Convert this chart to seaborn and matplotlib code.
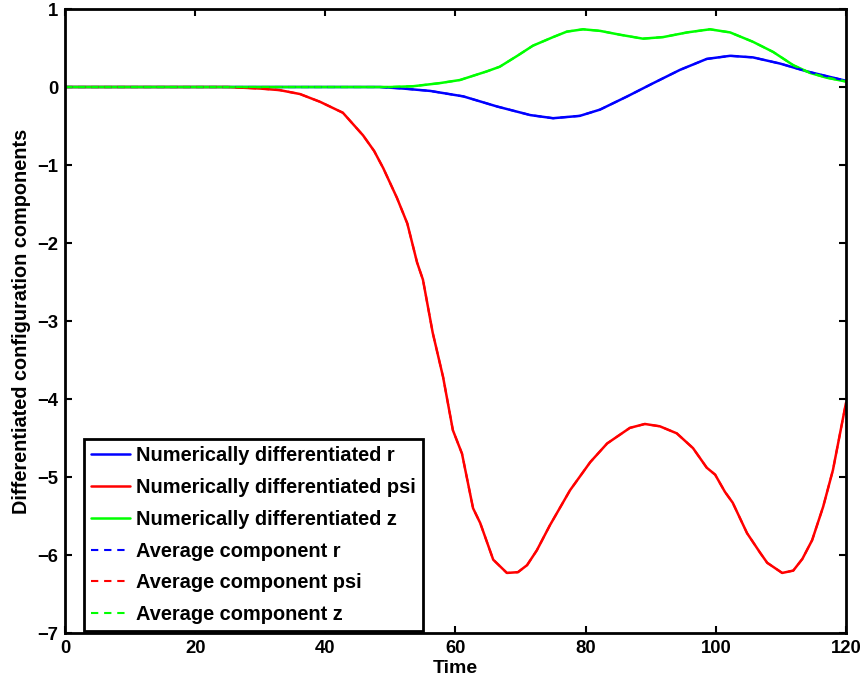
import matplotlib
matplotlib.use("Agg")
import matplotlib.pyplot as plt
import seaborn as sns
import pandas as pd

# Time samples and numerically differentiated components
t_psi = [0, 10, 20, 25, 30, 33, 36.1, 39.2, 42.7, 45.8, 47.5, 48.9, 51.0, 52.6, 54.1, 55.0,
         56.5, 58.1, 59.6, 61.0, 62.7, 63.8, 65.8, 67.9, 69.6, 71.0, 72.5, 74.5, 77.6,
         80.7, 83.3, 86.8, 89.1, 91.4, 94.0, 96.5, 98.6, 99.9, 101.4, 102.6, 104.8,
         106.8, 107.9, 110.2, 111.9, 113.3, 114.8, 116.5, 118.0, 120.0]
psi = [0, 0, 0, 0, -0.02, -0.04, -0.09, -0.19, -0.33, -0.62, -0.82, -1.04, -1.42, -1.75,
       -2.25, -2.47, -3.15, -3.72, -4.40, -4.70, -5.40, -5.59, -6.06, -6.23, -6.22, -6.13,
       -5.94, -5.62, -5.17, -4.81, -4.57, -4.37, -4.32, -4.35, -4.44, -4.63, -4.88, -4.97,
       -5.19, -5.33, -5.72, -5.97, -6.10, -6.23, -6.20, -6.05, -5.81, -5.38, -4.91, -4.05]

t_r = [0, 10, 20, 30, 40, 48.4, 52.0, 56.1, 61.2, 66.4, 71.5, 75.0, 79.1, 82.2, 86.4, 90.4,
       94.5, 98.6, 102.2, 105.7, 109.9, 114.0, 117.0, 120.0]
r = [0, 0, 0, 0, 0, 0.0, -0.02, -0.05, -0.12, -0.25, -0.36, -0.40, -0.37, -0.29, -0.12,
     0.05, 0.22, 0.36, 0.40, 0.38, 0.30, 0.20, 0.14, 0.08]

t_z = [0, 10, 20, 30, 40, 50, 53.5, 57.6, 60.7, 64.8, 66.8, 69.5, 71.9, 75.0, 77.1, 79.6,
       82.2, 85.3, 88.8, 91.9, 95.6, 99.1, 102.2, 105.7, 108.8, 111.9, 114.5, 117.0, 120.0]
z = [0, 0, 0, 0, 0, 0, 0.01, 0.05, 0.09, 0.20, 0.26, 0.40, 0.53, 0.64, 0.71, 0.74, 0.72,
     0.67, 0.62, 0.64, 0.70, 0.74, 0.70, 0.58, 0.45, 0.28, 0.18, 0.12, 0.07]

x_ticks = [0, 20, 40, 60, 80, 100, 120]
y_ticks = [-7, -6, -5, -4, -3, -2, -1, 0, 1]

sns.set_style("ticks")
plt.rcParams["font.family"] = ["Liberation Sans", "DejaVu Sans"]
plt.rcParams["font.weight"] = "bold"
plt.rcParams["axes.labelweight"] = "bold"
for key in ("text.color", "axes.labelcolor", "xtick.color", "ytick.color",
            "axes.edgecolor"):
    plt.rcParams[key] = "black"

fig = plt.figure(figsize=(8.62, 6.83), dpi=100)
ax = fig.add_axes([0.0754, 0.0732, 0.906, 0.9136])

series = [
    ("r", t_r, r, "#0000ff"),
    ("psi", t_psi, psi, "#ff0000"),
    ("z", t_z, z, "#00ff00"),
]

for name, t, v, c in series:
    df = pd.DataFrame({"Time": t, "value": v})
    sns.lineplot(data=df, x="Time", y="value", ax=ax, color=c, linewidth=1.8,
                 label=f"Numerically differentiated {name}", sort=False)

for name, t, v, c in series:
    df = pd.DataFrame({"Time": t, "value": v})
    sns.lineplot(data=df, x="Time", y="value", ax=ax, color=c, linewidth=1.5,
                 linestyle=(0, (3.5, 2.8)), label=f"Average component {name}", sort=False)

ax.set_xlim(0, 120)
ax.set_ylim(-7, 1)
ax.set_xticks(x_ticks)
ax.set_yticks(y_ticks)
ax.set_xticklabels([str(v) for v in x_ticks])
ax.set_yticklabels([f"\u2212{-v}" if v < 0 else str(v) for v in y_ticks])
ax.tick_params(direction="in", length=5, width=1.5, labelsize=13.3, top=True, right=True,
               pad=5, colors="black")
for s in ax.spines.values():
    s.set_linewidth(2)
    s.set_visible(True)
    s.set_color("black")

ax.set_xlabel("Time", fontsize=14, fontweight="bold", labelpad=2)
ax.set_ylabel("Differentiated configuration components", fontsize=14.3,
              fontweight="bold", labelpad=4)

leg = ax.legend(loc="lower left", bbox_to_anchor=(0.0243, 0.003), borderaxespad=0,
                frameon=True, fancybox=False, framealpha=1, edgecolor="black",
                handlelength=1.95, labelspacing=0.64, borderpad=0.35, handletextpad=0.3,
                prop={"weight": "bold", "size": 14.4})
leg.get_frame().set_linewidth(2)
for txt in leg.get_texts():
    txt.set_color("black")

fig.savefig("out.png", dpi=100)
